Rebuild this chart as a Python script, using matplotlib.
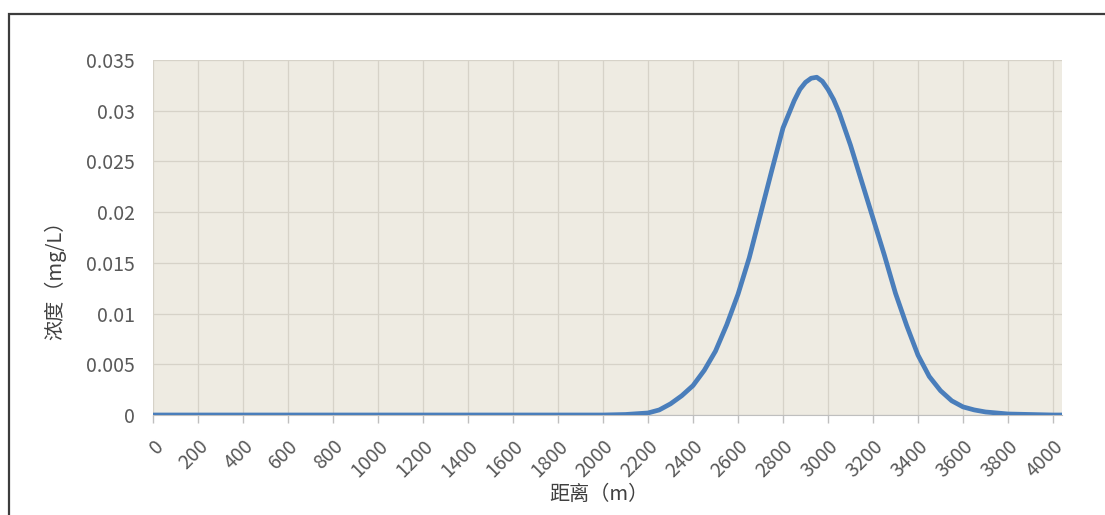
import matplotlib
matplotlib.use("Agg")
import matplotlib.pyplot as plt
from matplotlib.patches import Rectangle

plt.rcParams['font.family'] = ['Noto Sans CJK SC', 'DejaVu Sans']

# ---------------- data: concentration along the river ----------------
distance = [0, 100, 200, 300, 400, 500, 600, 700, 800, 900, 1000,
            1100, 1200, 1300, 1400, 1500, 1600, 1700, 1800, 1900, 2000,
            2100, 2200, 2250, 2300, 2350, 2400, 2450, 2500, 2550, 2600,
            2650, 2700, 2750, 2800, 2850, 2875, 2900, 2925, 2950, 2975,
            3000, 3025, 3050, 3100,
            3150, 3200, 3250, 3300, 3350, 3400, 3450, 3500, 3550, 3600,
            3650, 3700, 3800, 3900, 4000, 4040]
concentration = [0, 0, 0, 0, 0, 0, 0, 0, 0, 0, 0,
                 0, 0, 0, 0, 0, 0, 0, 0, 0, 0,
                 0.00005, 0.0002, 0.0005, 0.0011, 0.0019, 0.0029, 0.0044, 0.0063, 0.0089, 0.0119,
                 0.0155, 0.0198, 0.0241, 0.0283, 0.0310, 0.0321, 0.0328, 0.0332, 0.0333, 0.0329,
                 0.0321, 0.0311, 0.0298, 0.0266,
                 0.0230, 0.0194, 0.0158, 0.0120, 0.0088, 0.0059, 0.0038, 0.0024, 0.0014, 0.0008,
                 0.0005, 0.0003, 0.0001, 0.00005, 0, 0]

x_ticks = list(range(0, 4001, 200))
y_ticks = [0, 0.005, 0.01, 0.015, 0.02, 0.025, 0.03, 0.035]
y_labels = ["0", "0.005", "0.01", "0.015", "0.02", "0.025", "0.03", "0.035"]

W, H = 1105, 515
fig = plt.figure(figsize=(W / 100, H / 100), dpi=100)
fig.patch.set_facecolor("white")

# outer chart frame (runs off the right and bottom edges)
fig.patches.append(Rectangle((9 / W, -0.2), 1.2, (H - 14) / H + 0.2,
                             transform=fig.transFigure, fill=False,
                             edgecolor="#3c3c3c", linewidth=1.6))

ax = fig.add_axes([153 / W, 100 / H, 909 / W, 355 / H])
ax.set_facecolor("#eeebe2")

ax.plot(distance, concentration, color="#4a7ebb", linewidth=3.4,
        solid_joinstyle="round", solid_capstyle="round", zorder=3)

ax.set_xlim(0, 4040)
ax.set_ylim(0, 0.035)

ax.set_xticks(x_ticks)
ax.set_xticklabels([str(v) for v in x_ticks], rotation=45, ha="right",
                   va="top", rotation_mode="anchor")
ax.set_yticks(y_ticks)
ax.set_yticklabels(y_labels)

ax.grid(True, color="#d6d2c8", linewidth=0.9)
ax.set_axisbelow(True)

for side in ["top", "right", "left"]:
    ax.spines[side].set_visible(False)
ax.spines["bottom"].set_color("#bfbfbf")

ax.tick_params(axis="x", colors="#bfbfbf", length=6, width=1, pad=9,
               labelcolor="#595959", labelsize=14)
ax.tick_params(axis="y", length=0, pad=13, labelcolor="#595959", labelsize=14)

fig.text(599 / W, 1 - 494 / H, "距离（m）", ha="center", va="center",
         fontsize=14.5, color="#404040")
fig.text(55 / W, 1 - 275 / H, "浓度（mg/L）", ha="center", va="center",
         rotation=90, fontsize=14.5, color="#404040")

fig.savefig("out.png", dpi=100)
